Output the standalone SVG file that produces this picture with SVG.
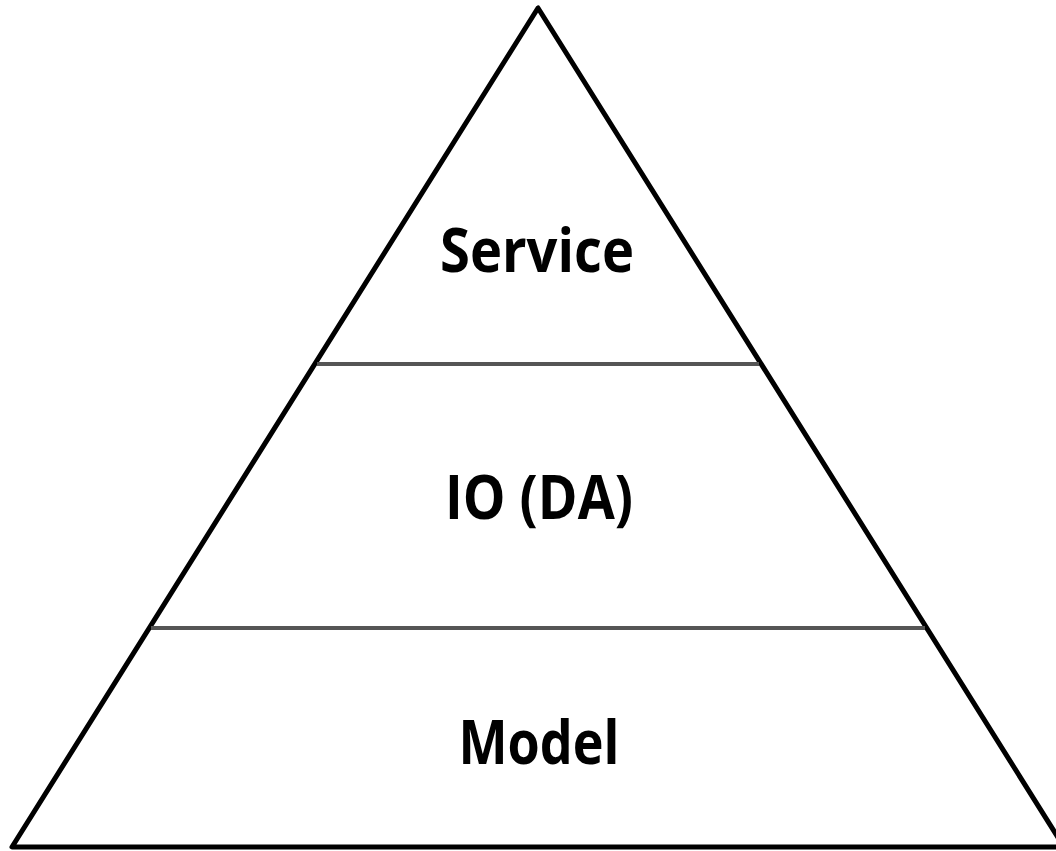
<svg xmlns="http://www.w3.org/2000/svg" width="1056" height="851" viewBox="0 0 1056 851">
  <style>
    .outline { fill: none; stroke: #000; stroke-width: 5; stroke-linejoin: round; }
    .divider { stroke: #555; stroke-width: 4; }
    .label { font-family: "Open Sans", "Liberation Sans", sans-serif; font-weight: 700; font-size: 60px; fill: #000; text-anchor: middle; }
  </style>
  <rect width="1056" height="851" fill="#fff"/>
  <g id="pyramid">
    <path class="outline" d="M538 8 L12 847 L1064 847 Z"/>
  </g>
  <g id="dividers">
    <line class="divider" x1="317" y1="364" x2="759" y2="364"/>
    <line class="divider" x1="151" y1="628" x2="925" y2="628"/>
  </g>
  <g id="layer-service">
    <text class="label" x="537" y="272" textLength="194" lengthAdjust="spacingAndGlyphs">Service</text>
  </g>
  <g id="layer-io">
    <text class="label" x="539" y="519" textLength="188" lengthAdjust="spacingAndGlyphs">IO (DA)</text>
  </g>
  <g id="layer-model">
    <text class="label" x="539" y="764" textLength="161" lengthAdjust="spacingAndGlyphs">Model</text>
  </g>
</svg>
